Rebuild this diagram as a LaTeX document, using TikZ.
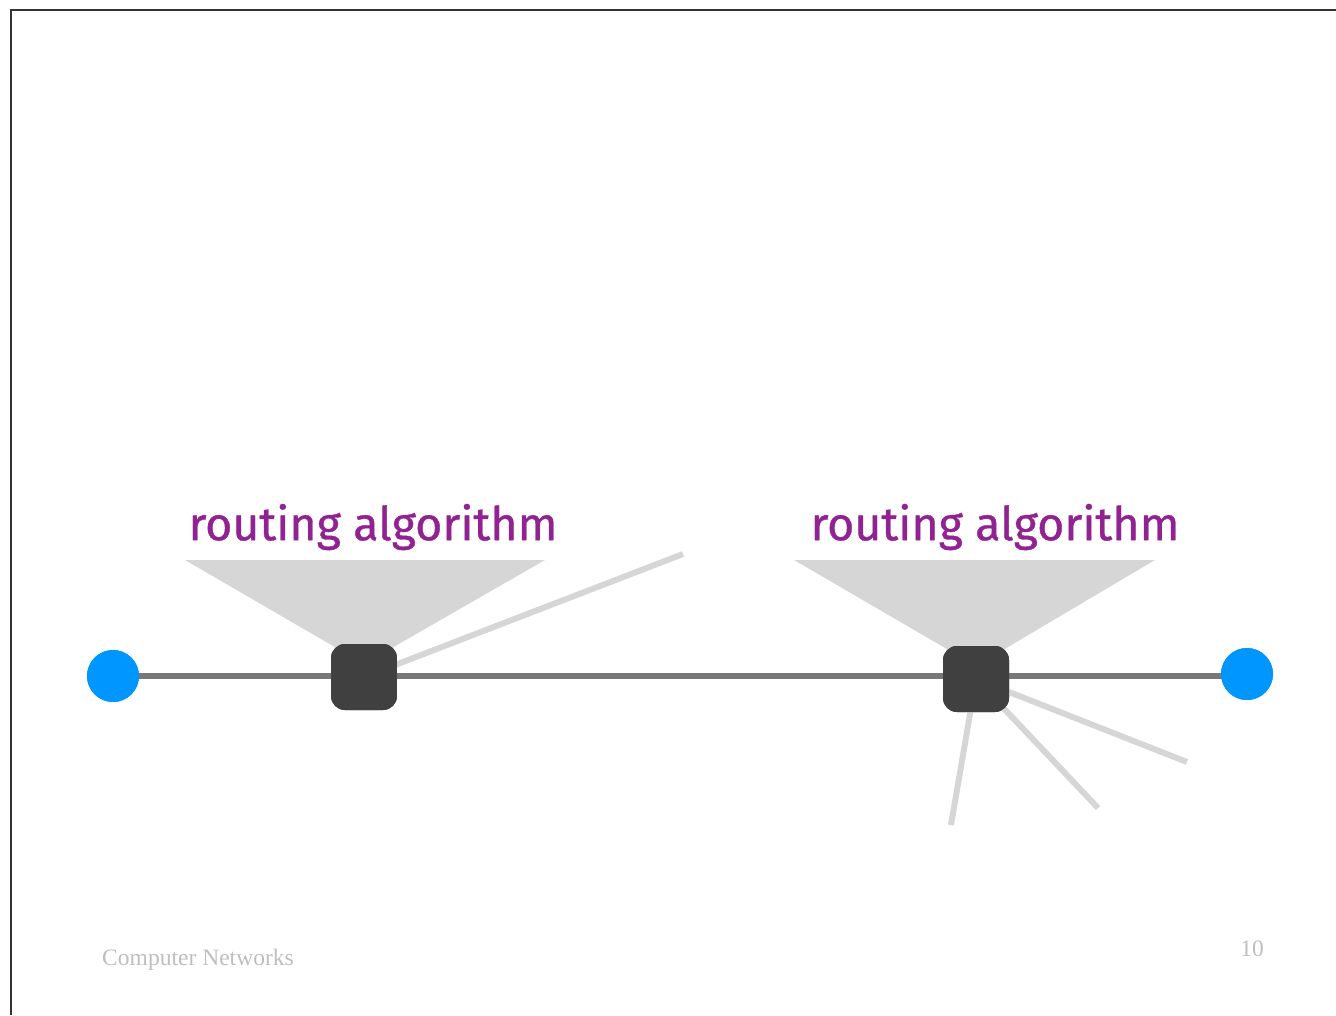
\documentclass[tikz,border=0pt]{standalone}
\usepackage{fontspec}
\setmainfont{Liberation Serif}
\newfontfamily\labelfont[FakeBold=0.8]{Fira Sans}
\definecolor{hostblue}{RGB}{0,150,255}
\definecolor{routergray}{RGB}{64,64,64}
\definecolor{linkgray}{RGB}{120,120,120}
\definecolor{fadegray}{RGB}{214,214,214}
\definecolor{algopurple}{RGB}{145,34,145}
\definecolor{footgray}{RGB}{190,190,190}
\tikzset{
  host/.style={circle,fill=hostblue,minimum size=1.04cm,inner sep=0pt},
  router/.style={rounded corners=0.28cm,fill=routergray,minimum size=1.32cm,inner sep=0pt},
  link/.style={draw=linkgray,line width=3.4pt},
  stub/.style={draw=fadegray,line width=3.4pt},
  algo/.style={text=algopurple,font=\labelfont\fontsize{26.5}{30}\selectfont},
  foot/.style={text=footgray,font=\fontsize{13.4}{16}\selectfont}
}
\begin{document}
\begin{tikzpicture}[x=0.02cm,y=-0.02cm]

	\useasboundingbox (0,0) rectangle (1336,1015);
	\draw[line width=1.2pt,draw=black!80] (11,1015) -- (11,10) -- (1336,10);

	\fill[fadegray] (185,560) -- (545,560) -- (364,664) -- cycle;
	\fill[fadegray] (794,560) -- (1155,560) -- (976,666) -- cycle;

	\node[host] (hostA) at (113,676) {}; \node[host] (hostB) at
        (1247,674) {};
	\node[router] (routerA) at (364,677) {}; \node[router]
        (routerB) at (976,679) {};

	\coordinate (endA) at (683,554); \coordinate (endB) at
        (1187,762); \coordinate (endC) at (1098,808); \coordinate
        (endD) at (951,825);

	\draw[stub] (routerA.center) -- (endA); \draw[stub]
        (routerB.center) -- (endB); \draw[stub] (routerB.center) --
        (endC); \draw[stub] (routerB.center) -- (endD);
	\draw[link] (hostA.center) -- (hostA.center -| hostB);

	\node[host] at (hostA) {}; \node[host] at (hostB) {};
	\node[router] at (routerA) {}; \node[router] at (routerB) {};

	\node[algo] (algoA) at (373,527) {routing algorithm};
	\node[algo] (algoB) at (995,527) {routing algorithm};

	\node[foot,anchor=west] (course) at (96,960) {Computer Networks};
	\node[foot,anchor=east] (page) at (1270,949) {10};
      \end{tikzpicture}
\end{document}
